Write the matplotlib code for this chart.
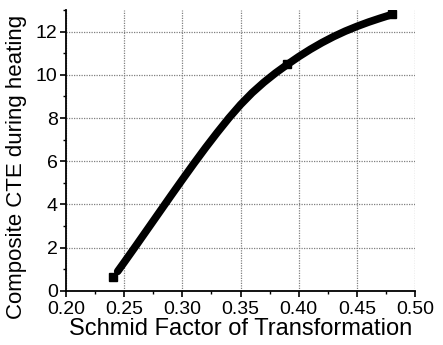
import matplotlib
matplotlib.use("Agg")
import matplotlib.pyplot as plt
from matplotlib.ticker import MultipleLocator

plt.rcParams['font.family'] = ['Liberation Sans', 'DejaVu Sans']

# fitted curve
curve_x = [0.2444, 0.25, 0.26, 0.27, 0.28, 0.29, 0.30, 0.31, 0.32, 0.33, 0.34, 0.35,
           0.36, 0.37, 0.38, 0.39, 0.40, 0.41, 0.42, 0.43, 0.44, 0.45, 0.46, 0.47, 0.48]
curve_y = [0.90, 1.32, 2.08, 2.85, 3.62, 4.39, 5.15, 5.90, 6.63, 7.33, 8.00, 8.62,
           9.17, 9.65, 10.08, 10.47, 10.84, 11.18, 11.49, 11.77, 12.02, 12.24, 12.44, 12.62, 12.79]

# measured points
point_x = [0.24, 0.39, 0.48]
point_y = [0.65, 10.5, 12.8]

fig = plt.figure(figsize=(4.43, 3.45), dpi=100)
ax = fig.add_axes([0.149, 0.157, 0.788, 0.814])

ax.plot(curve_x, curve_y, color='black', lw=5.5, solid_capstyle='round',
        solid_joinstyle='round', zorder=3)
ax.plot(point_x, point_y, 's', color='black', ms=6, zorder=4)

ax.set_xlim(0.20, 0.50)
ax.set_ylim(0, 13)
ax.xaxis.set_major_locator(MultipleLocator(0.05))
ax.xaxis.set_minor_locator(MultipleLocator(0.025))
ax.yaxis.set_major_locator(MultipleLocator(2))
ax.yaxis.set_minor_locator(MultipleLocator(1))
ax.xaxis.set_major_formatter(plt.FormatStrFormatter('%.2f'))

ax.grid(True, which='major', color='#808080', linestyle=(0, (1, 1)), linewidth=0.9)
ax.set_axisbelow(True)

for side in ['top', 'right']:
    ax.spines[side].set_visible(False)
for side in ['left', 'bottom']:
    ax.spines[side].set_linewidth(1.3)

ax.tick_params(which='major', direction='out', length=4, width=1.2, labelsize=14, pad=2)
ax.tick_params(axis='x', which='major', pad=3)
ax.tick_params(which='minor', direction='out', length=2.5, width=1.0)

ax.set_xlabel('Schmid Factor of Transformation', fontsize=17, labelpad=0)
ax.set_ylabel('Composite CTE during heating', fontsize=16)
ax.yaxis.set_label_coords(-0.112, 0.44)

fig.savefig('out.png', dpi=100)
